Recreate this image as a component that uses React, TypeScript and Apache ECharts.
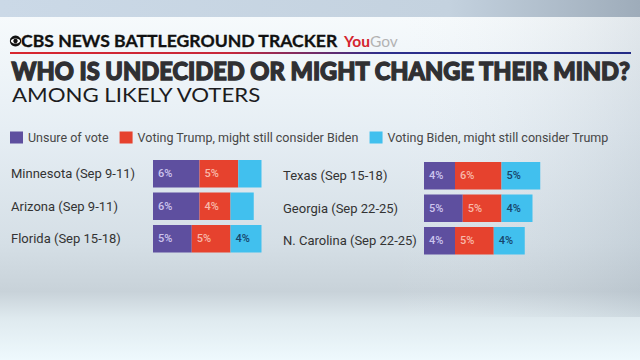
import React, { useEffect, useRef } from 'react';
import * as echarts from 'echarts';

const legendNames = [
  'Unsure of vote',
  'Voting Trump, might still consider Biden',
  'Voting Biden, might still consider Trump',
];
const leftStates = ['Minnesota (Sep 9-11)', 'Arizona (Sep 9-11)', 'Florida (Sep 15-18)'];
const leftUnsure = [6, 6, 5];
const leftTrump = [5, 4, 5];
const leftBiden = [3, 3, 4];
const rightStates = ['Texas (Sep 15-18)', 'Georgia (Sep 22-25)', 'N. Carolina (Sep 22-25)'];
const rightUnsure = [4, 5, 4];
const rightTrump = [6, 5, 5];
const rightBiden = [5, 4, 4];

const headerText = 'CBS NEWS BATTLEGROUND TRACKER';
const titleText = 'WHO IS UNDECIDED OR MIGHT CHANGE THEIR MIND?';
const subtitleText = 'AMONG LIKELY VOTERS';

const colors = ['#5e4f9f', '#e6422e', '#41c0ee'];
const labelColors = ['#cdc5ee', '#f8b9aa', '#17456b'];

function fit(text: string, font: string, target: number): number {
  const ctx = document.createElement('canvas').getContext('2d');
  if (!ctx) return 1;
  ctx.font = font;
  const w = ctx.measureText(text).width;
  return w > 0 ? target / w : 1;
}

export default function App() {
  const ref = useRef<HTMLDivElement>(null);
  useEffect(() => {
    const chart = echarts.init(ref.current!, null, { renderer: 'svg' });

    const makeSeries = (g: number, arrays: number[][]) =>
      arrays.map((data, i) => ({
        name: legendNames[i],
        type: 'bar',
        stack: 'g' + g,
        xAxisIndex: g,
        yAxisIndex: g,
        data,
        barWidth: 27.5,
        itemStyle: { color: colors[i] },
        label: {
          show: true,
          position: 'insideLeft',
          distance: 5,
          color: labelColors[i],
          fontSize: 11,
          fontFamily: 'Roboto',
          fontWeight: 500,
          formatter: (p: any) => (p.value >= 4 ? p.value + '%' : ''),
        },
      }));

    const headerScale = fit(headerText, '700 16.5px Lato', 317);
    const titleScale = fit(titleText, '900 24px Lato', 620);
    const subScale = fit(subtitleText, '400 19.5px Lato', 250);

    const yAxisCommon = {
      type: 'category',
      inverse: true,
      axisLine: { show: false },
      axisTick: { show: false },
      splitLine: { show: false },
    };

    const option: any = {
      animation: false,
      legend: {
        left: 10,
        top: 131,
        padding: 0,
        itemWidth: 13,
        itemHeight: 12,
        itemGap: 11,
        icon: 'rect',
        data: legendNames,
        textStyle: { color: '#474747', fontSize: 12.5, fontFamily: 'Roboto' },
      },
      grid: [
        { left: 153, top: 157.5, width: 155, height: 97.5 },
        { left: 424, top: 159.5, width: 155, height: 97.5 },
      ],
      xAxis: [
        { gridIndex: 0, type: 'value', min: 0, max: 20, show: false },
        { gridIndex: 1, type: 'value', min: 0, max: 20, show: false },
      ],
      yAxis: [
        {
          ...yAxisCommon,
          gridIndex: 0,
          data: leftStates,
          axisLabel: { align: 'left', margin: 142, color: '#333', fontSize: 13, fontFamily: 'Roboto' },
        },
        {
          ...yAxisCommon,
          gridIndex: 1,
          data: rightStates,
          axisLabel: { align: 'left', margin: 141, color: '#333', fontSize: 13, fontFamily: 'Roboto' },
        },
      ],
      series: [
        ...makeSeries(0, [leftUnsure, leftTrump, leftBiden]),
        ...makeSeries(1, [rightUnsure, rightTrump, rightBiden]),
      ],
      graphic: [
        {
          type: 'rect',
          z: -10,
          shape: { x: 0, y: 17, width: 640, height: 343 },
          style: {
            fill: new echarts.graphic.LinearGradient(0, 0, 0, 1, [
              { offset: 0, color: '#f6fafc' },
              { offset: 0.33, color: '#e6eef4' },
              { offset: 0.66, color: '#d5dfe6' },
              { offset: 0.8, color: '#c8d2d9' },
              { offset: 0.88, color: '#dfeaef' },
              { offset: 1, color: '#eef9fd' },
            ]),
          },
        },
        {
          type: 'rect',
          z: -9,
          shape: { x: 0, y: 17, width: 640, height: 300 },
          style: {
            fill: new echarts.graphic.LinearGradient(0, 0, 1, 0, [
              { offset: 0, color: 'rgba(255,255,255,0)' },
              { offset: 0.6, color: 'rgba(255,255,255,0)' },
              { offset: 1, color: 'rgba(130,145,160,0.18)' },
            ]),
          },
        },
        {
          type: 'rect',
          z: -10,
          shape: { x: 0, y: 0, width: 640, height: 17 },
          style: {
            fill: new echarts.graphic.LinearGradient(0, 0, 1, 0, [
              { offset: 0, color: '#cbd9e7' },
              { offset: 0.7, color: '#c4d2df' },
              { offset: 1, color: '#9eacba' },
            ]),
          },
        },
        // CBS eye
        { type: 'circle', shape: { cx: 15.5, cy: 41, r: 5.6 }, style: { fill: '#111' } },
        { type: 'ellipse', shape: { cx: 15.5, cy: 41, rx: 4.6, ry: 2.6 }, style: { fill: '#fff' } },
        { type: 'circle', shape: { cx: 15.5, cy: 41, r: 2.2 }, style: { fill: '#111' } },
        {
          type: 'text',
          x: 21,
          y: 41,
          scaleX: headerScale,
          style: {
            text: headerText,
            fontFamily: 'Lato',
            fontWeight: 700,
            fontSize: 16.5,
            fill: '#111',
            stroke: '#111',
            lineWidth: 0.3,
            verticalAlign: 'middle',
          },
        },
        {
          type: 'text',
          x: 344,
          y: 41,
          style: {
            text: 'You',
            fontFamily: 'Lato',
            fontWeight: 700,
            fontSize: 15.5,
            fill: '#d4252e',
            verticalAlign: 'middle',
          },
        },
        {
          type: 'text',
          x: 370,
          y: 41,
          style: {
            text: 'Gov',
            fontFamily: 'Lato',
            fontWeight: 400,
            fontSize: 15.5,
            fill: '#b3b3b3',
            verticalAlign: 'middle',
          },
        },
        {
          type: 'rect',
          shape: { x: 10, y: 52, width: 621, height: 2 },
          style: {
            fill: new echarts.graphic.LinearGradient(0, 0, 1, 0, [
              { offset: 0, color: '#d8262f' },
              { offset: 0.35, color: '#c8283a' },
              { offset: 0.6, color: '#2d2f8c' },
              { offset: 1, color: '#232b86' },
            ]),
          },
        },
        {
          type: 'text',
          x: 11.5,
          y: 70,
          scaleX: titleScale,
          style: {
            text: titleText,
            fontFamily: 'Lato',
            fontWeight: 900,
            fontSize: 24,
            fill: '#303033',
            stroke: '#303033',
            lineWidth: 1.3,
            lineJoin: 'round',
            verticalAlign: 'middle',
          },
        },
        {
          type: 'text',
          x: 12,
          y: 94.5,
          scaleX: subScale,
          style: {
            text: subtitleText,
            fontFamily: 'Lato',
            fontWeight: 400,
            fontSize: 19.5,
            fill: '#1c1c1e',
            verticalAlign: 'middle',
          },
        },
      ],
    };

    chart.setOption(option);
    return () => chart.dispose();
  }, []);
  return <div ref={ref} style={{ position: 'absolute', left: 0, top: 0, width: 640, height: 360 }} />;
}
